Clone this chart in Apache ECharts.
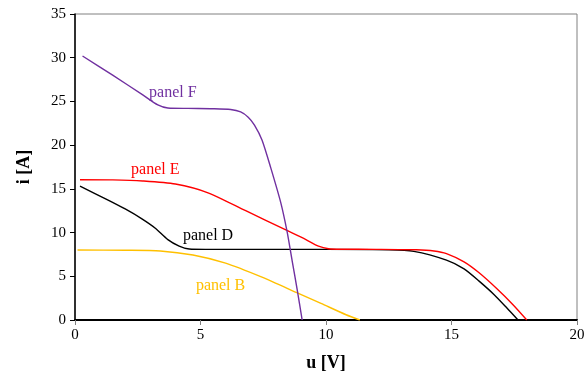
<!DOCTYPE html>
<html>
<head>
<meta charset="utf-8">
<script src="https://cdn.jsdelivr.net/npm/echarts@6/dist/echarts.min.js"></script>
<style>
  html, body { margin: 0; padding: 0; background: #fff; }
  #chart { width: 586px; height: 372px; }
</style>
</head>
<body>
<div id="chart"></div>
<script>
// u [V], i [A] pairs
const panelF = [
  [0.3, 30.2], [1.5, 28.0], [2.7, 25.75], [3.3, 24.6], [3.7, 24.25], [4.5, 24.2], [5.5, 24.17],
  [6.2, 24.08], [6.6, 23.8], [6.9, 23.2], [7.15, 22.3], [7.45, 20.6], [7.8, 17.4], [8.2, 13.4],
  [8.45, 10.1], [8.65, 6.8], [8.85, 3.5], [9.05, 0],
]
const panelE = [
  [0.2, 16.05], [1.5, 16.03], [2.7, 15.9], [4, 15.55], [5.3, 14.55], [6.8, 12.5],
  [8.4, 10.3], [9.2, 9.2], [9.7, 8.45], [10.1, 8.15], [10.6, 8.09], [12, 8.08], [13.6, 8.03],
  [14.3, 7.9], [14.8, 7.6], [15.5, 6.65], [16.1, 5.4], [16.8, 3.6], [17.45, 1.75], [18, 0],
]
const panelD = [
  [0.2, 15.3], [1.3, 13.75], [2.0, 12.7], [2.65, 11.6], [3.2, 10.5], [3.7, 9.2], [4.15, 8.45],
  [4.55, 8.12], [5.2, 8.08], [10, 8.08], [12.5, 8.04], [13.5, 7.85], [14.8, 6.85], [15.5, 5.85],
  [16.1, 4.45], [16.7, 2.9], [17.2, 1.4], [17.65, 0],
]
const panelB = [
  [0.1, 8.0], [2, 7.98], [3.4, 7.9], [4.7, 7.43], [6, 6.5], [7.4, 4.95], [8.9, 3.05],
  [9.8, 1.9], [10.8, 0.6], [11.35, 0],
]

const seriesNames = ['panel F', 'panel E', 'panel D', 'panel B']
const seriesColors = ['#7030A0', '#FF0000', '#000000', '#FFC000']
const seriesData = [panelF, panelE, panelD, panelB]
// where each curve's label sits, in data coords
const labelCoords = [[3.9, 26.0], [3.2, 17.2], [5.3, 9.65], [5.8, 3.9]]

const serif = 'Liberation Serif, Times New Roman, serif'

const chart = echarts.init(document.getElementById('chart'))
chart.setOption({
  animation: false,
  grid: {
    left: 75,
    right: 9,
    top: 14,
    bottom: 52,
    outerBoundsMode: 'none',
    show: true,
    borderColor: '#808080',
    borderWidth: 1,
  },
  xAxis: {
    type: 'value',
    min: 0,
    max: 20,
    interval: 5,
    name: 'u [V]',
    nameLocation: 'middle',
    nameGap: 34,
    nameTextStyle: { fontFamily: serif, fontWeight: 'bold', fontSize: 18, color: '#000' },
    axisLine: { onZero: false, lineStyle: { color: '#000', width: 2 } },
    axisTick: { show: true, length: 5, lineStyle: { color: '#808080' } },
    axisLabel: { fontFamily: serif, fontSize: 15, color: '#000', margin: 8 },
    splitLine: { show: false },
  },
  yAxis: {
    type: 'value',
    min: 0,
    max: 35,
    interval: 5,
    name: 'i [A]',
    nameLocation: 'middle',
    nameGap: 42,
    nameTextStyle: { fontFamily: serif, fontWeight: 'bold', fontSize: 18, color: '#000' },
    axisLine: { lineStyle: { color: '#000', width: 1.5 } },
    axisTick: { show: true, length: 5, lineStyle: { color: '#000' } },
    axisLabel: { fontFamily: serif, fontSize: 15, color: '#000', margin: 9 },
    splitLine: { show: false },
  },
  series: seriesNames.map((name, idx) => ({
    name,
    type: 'line',
    data: seriesData[idx],
    smooth: 0.25,
    showSymbol: false,
    lineStyle: { color: seriesColors[idx], width: 1.4 },
    z: 4 - idx,
    markPoint: {
      symbol: 'circle',
      symbolSize: 0,
      silent: true,
      data: [{ coord: labelCoords[idx] }],
      label: {
        show: true,
        position: 'inside',
        formatter: name,
        fontFamily: serif,
        fontSize: 16,
        color: seriesColors[idx],
      },
    },
  })),
})
</script>
</body>
</html>
